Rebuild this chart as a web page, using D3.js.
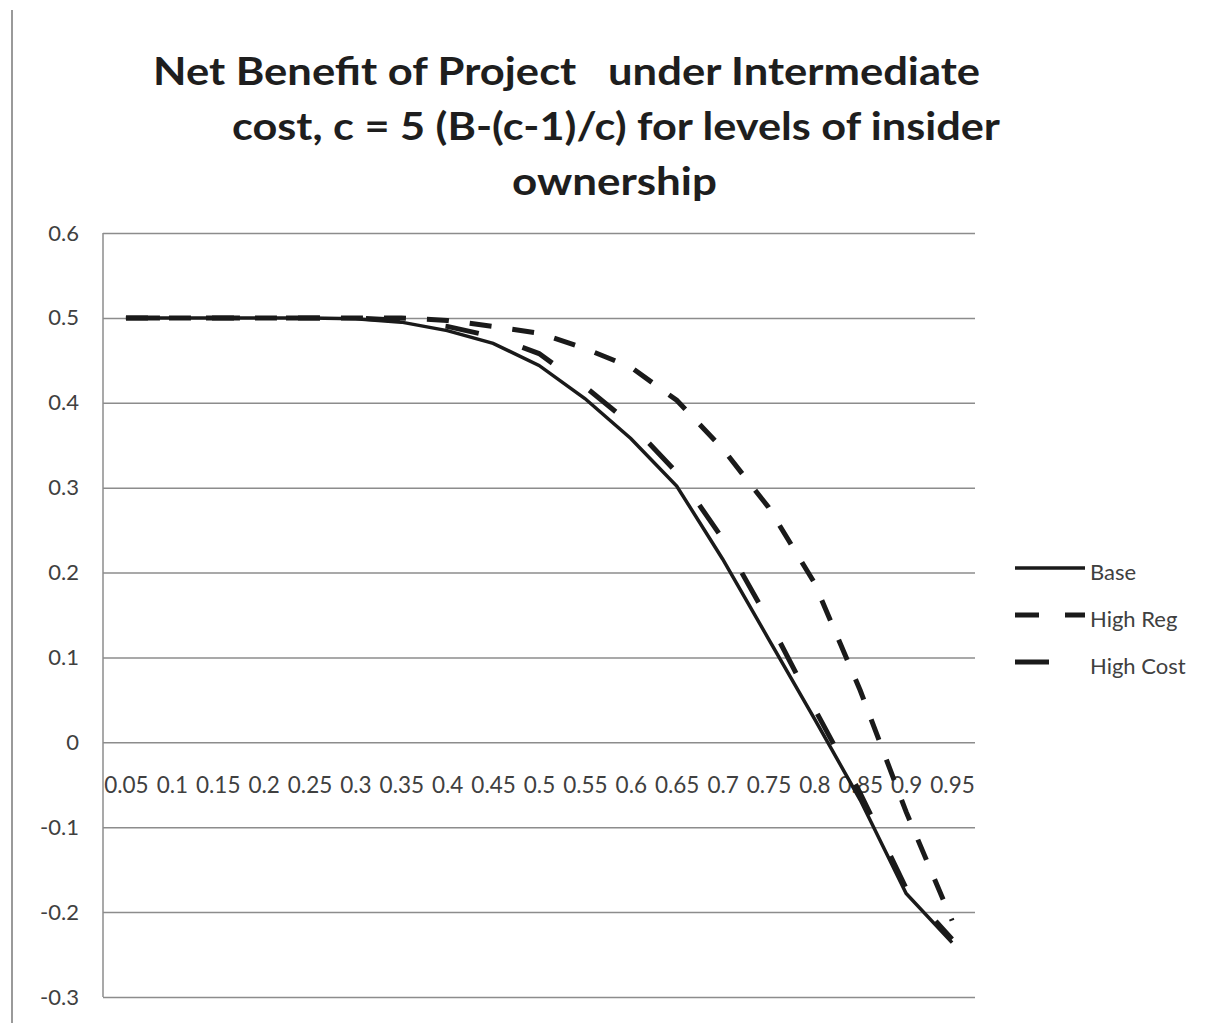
<!DOCTYPE html>
<html>
<head>
<meta charset="utf-8">
<script src="https://cdn.jsdelivr.net/npm/d3@7"></script>
<style>
  body { margin: 0; background: #fff; }
  text { font-family: Lato, "Open Sans", sans-serif; }
</style>
</head>
<body>
<svg id="chart" width="1205" height="1023"></svg>
<script>
// categories (insider ownership levels)
const xLabels = ['0.05', '0.1', '0.15', '0.2', '0.25', '0.3', '0.35', '0.4', '0.45', '0.5',
  '0.55', '0.6', '0.65', '0.7', '0.75', '0.8', '0.85', '0.9', '0.95']
const yTicks = [0.6, 0.5, 0.4, 0.3, 0.2, 0.1, 0, -0.1, -0.2, -0.3]
const yLabels = ['0.6', '0.5', '0.4', '0.3', '0.2', '0.1', '0', '-0.1', '-0.2', '-0.3']

// series values
const base = [0.5, 0.5, 0.5, 0.5, 0.5, 0.499, 0.495, 0.485, 0.47, 0.444,
  0.405, 0.358, 0.302, 0.216, 0.122, 0.028, -0.068, -0.178, -0.236]
const highReg = [0.5, 0.5, 0.5, 0.5, 0.5, 0.5, 0.5, 0.497, 0.49, 0.482,
  0.464, 0.442, 0.403, 0.346, 0.277, 0.188, 0.061, -0.082, -0.21]
const highCost = [0.5, 0.5, 0.5, 0.5, 0.5, 0.5, 0.497, 0.49, 0.478, 0.458,
  0.419, 0.375, 0.318, 0.24, 0.144, 0.04, -0.06, -0.172, -0.232]

const seriesNames = ['Base', 'High Reg', 'High Cost']
const titleLines = ['Net Benefit of Project   under Intermediate',
  'cost, c = 5 (B-(c-1)/c) for levels of insider',
  'ownership']

const svg = d3.select('#chart')
const margin = { top: 233, right: 230, bottom: 26, left: 103 }
const width = +svg.attr('width') - margin.left - margin.right
const height = +svg.attr('height') - margin.top - margin.bottom

// outer chart border on the left
svg.append('line')
  .attr('x1', 12).attr('x2', 12).attr('y1', 10).attr('y2', 1023)
  .attr('stroke', '#9a9a9a').attr('stroke-width', 2)

// title
const titlePos = [[153, 85, 827], [232, 140, 768], [512, 195, 205]]
svg.append('g').selectAll('text')
  .data(titleLines)
  .join('text')
  .attr('x', (d, i) => titlePos[i][0])
  .attr('y', (d, i) => titlePos[i][1])
  .attr('textLength', (d, i) => titlePos[i][2])
  .attr('lengthAdjust', 'spacingAndGlyphs')
  .style('white-space', 'pre')
  .attr('font-size', 39)
  .attr('font-weight', 'bold')
  .attr('fill', '#1e1e1e')
  .text(d => d)

const g = svg.append('g').attr('transform', 'translate(' + margin.left + ',' + margin.top + ')')

const x = d3.scalePoint().domain(xLabels).range([0, width]).padding(0.5)
const y = d3.scaleLinear().domain([-0.3, 0.6]).range([height, 0])

// gridlines
g.append('g')
  .call(d3.axisLeft(y).tickValues(yTicks).tickSize(-width).tickFormat(''))
  .call(a => a.select('.domain').remove())
  .call(a => a.selectAll('line').attr('stroke', '#8c8c8c').attr('stroke-width', 1.5))

// left axis line
g.append('line')
  .attr('x1', 0).attr('x2', 0).attr('y1', 0).attr('y2', height)
  .attr('stroke', '#8c8c8c').attr('stroke-width', 1.5)

// y labels
g.append('g')
  .call(d3.axisLeft(y).tickValues(yTicks).tickSize(0).tickPadding(24)
    .tickFormat((d, i) => yLabels[i]))
  .call(a => a.select('.domain').remove())
  .call(a => a.selectAll('text').attr('font-size', 22).attr('fill', '#404040')
    .attr('font-family', 'Lato, sans-serif'))

// x labels at the zero line
g.append('g')
  .attr('transform', `translate(0, ${y(0)})`)
  .call(d3.axisBottom(x).tickSize(0).tickPadding(35))
  .call(a => a.select('.domain').remove())
  .call(a => a.selectAll('text').attr('font-size', 22.5).attr('fill', '#404040')
    .attr('font-family', 'Lato, sans-serif'))

const line = d3.line()
  .x((d, i) => x(xLabels[i]))
  .y(d => y(d))

const styles = [
  { dash: null, w: 3.5 },
  { dash: '22,21', w: 5 },
  { dash: '34,46', w: 5 }
]
const allSeries = [base, highReg, highCost]

// draw dashed first so base sits on top
;[2, 1, 0].forEach(k => {
  g.append('path')
    .datum(allSeries[k])
    .attr('fill', 'none')
    .attr('stroke', '#1a1a1a')
    .attr('stroke-width', styles[k].w)
    .attr('stroke-dasharray', styles[k].dash)
    .attr('d', line)
})

// legend
const legend = svg.append('g').attr('transform', 'translate(1015, 568)')
seriesNames.forEach((name, i) => {
  legend.append('line')
    .attr('x1', 0).attr('x2', 70).attr('y1', i * 47).attr('y2', i * 47)
    .attr('stroke', '#1a1a1a')
    .attr('stroke-width', styles[i].w)
    .attr('stroke-dasharray', styles[i].dash ? (i === 1 ? '24,26' : '34,40') : null)
  legend.append('text')
    .attr('x', 75).attr('y', i * 47 + 12)
    .attr('font-size', 22).attr('fill', '#404040')
    .text(name)
})
</script>
</body>
</html>
